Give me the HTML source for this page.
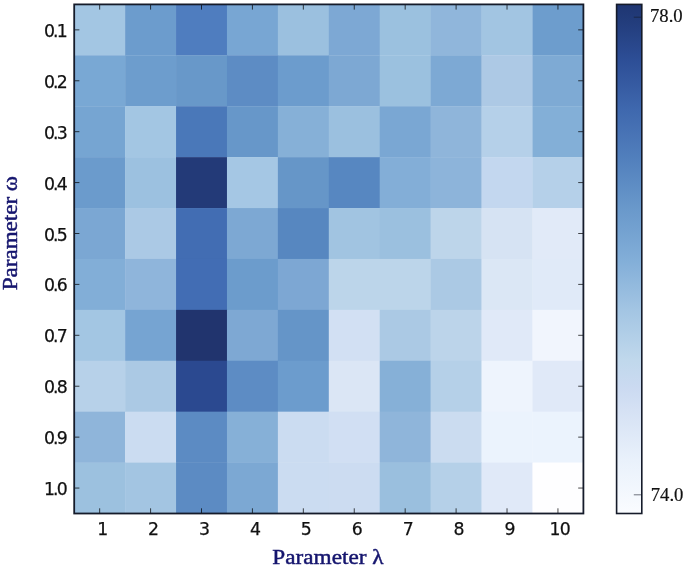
<!DOCTYPE html>
<html><head><meta charset="utf-8"><title>Heatmap</title>
<style>
html,body{margin:0;padding:0;background:#fff;}
body{width:685px;height:568px;overflow:hidden;position:relative;}
svg{position:absolute;left:0;top:0;display:block;}
.tk{font-family:"DejaVu Sans","Liberation Sans",sans-serif;font-size:17.3px;fill:#111;stroke:#111;stroke-width:0.25px;}
.cb{font-family:"Liberation Serif",serif;font-size:18.7px;fill:#111;stroke:#111;stroke-width:0.2px;}
.lb{font-family:"Liberation Serif",serif;font-size:20.5px;fill:#15156e;stroke:#15156e;stroke-width:0.45px;}
</style></head><body>
<svg width="685" height="568" viewBox="0 0 685 568">
<defs><linearGradient id="g" x1="0" y1="0" x2="0" y2="1">
<stop offset="0.0000" stop-color="#1f3672"/>
<stop offset="0.0228" stop-color="#213a78"/>
<stop offset="0.1092" stop-color="#2d4e96"/>
<stop offset="0.2074" stop-color="#3f68ae"/>
<stop offset="0.3056" stop-color="#5280bd"/>
<stop offset="0.4038" stop-color="#6a99cb"/>
<stop offset="0.5021" stop-color="#82aed8"/>
<stop offset="0.6003" stop-color="#a3c5e3"/>
<stop offset="0.6985" stop-color="#c0d8ec"/>
<stop offset="0.7535" stop-color="#cbdaf1"/>
<stop offset="0.7967" stop-color="#d5e1f4"/>
<stop offset="0.8949" stop-color="#e9f1fb"/>
<stop offset="1.0000" stop-color="#fafcff"/>
</linearGradient></defs>
<rect x="0" y="0" width="685" height="568" fill="#ffffff"/>
<g shape-rendering="auto">
<rect x="74.20" y="4.40" width="51.22" height="51.21" fill="#a3c6e3"/>
<rect x="125.12" y="4.40" width="51.22" height="51.21" fill="#6c9ccd"/>
<rect x="176.04" y="4.40" width="51.22" height="51.21" fill="#4f7dbf"/>
<rect x="226.96" y="4.40" width="51.22" height="51.21" fill="#78a6d3"/>
<rect x="277.88" y="4.40" width="51.22" height="51.21" fill="#9bc0df"/>
<rect x="328.80" y="4.40" width="51.22" height="51.21" fill="#7da8d4"/>
<rect x="379.72" y="4.40" width="51.22" height="51.21" fill="#9bc1df"/>
<rect x="430.64" y="4.40" width="51.22" height="51.21" fill="#90b6db"/>
<rect x="481.56" y="4.40" width="51.22" height="51.21" fill="#a2c5e2"/>
<rect x="532.48" y="4.40" width="51.22" height="51.21" fill="#6d9dcd"/>
<rect x="74.20" y="55.31" width="51.22" height="51.21" fill="#79a8d4"/>
<rect x="125.12" y="55.31" width="51.22" height="51.21" fill="#6d9dcd"/>
<rect x="176.04" y="55.31" width="51.22" height="51.21" fill="#6898c9"/>
<rect x="226.96" y="55.31" width="51.22" height="51.21" fill="#5d8cc4"/>
<rect x="277.88" y="55.31" width="51.22" height="51.21" fill="#6c9ccd"/>
<rect x="328.80" y="55.31" width="51.22" height="51.21" fill="#7da8d3"/>
<rect x="379.72" y="55.31" width="51.22" height="51.21" fill="#9bc1df"/>
<rect x="430.64" y="55.31" width="51.22" height="51.21" fill="#7da9d4"/>
<rect x="481.56" y="55.31" width="51.22" height="51.21" fill="#adc9e5"/>
<rect x="532.48" y="55.31" width="51.22" height="51.21" fill="#7eaad4"/>
<rect x="74.20" y="106.22" width="51.22" height="51.21" fill="#76a5d2"/>
<rect x="125.12" y="106.22" width="51.22" height="51.21" fill="#a3c6e3"/>
<rect x="176.04" y="106.22" width="51.22" height="51.21" fill="#4a78b9"/>
<rect x="226.96" y="106.22" width="51.22" height="51.21" fill="#6797c9"/>
<rect x="277.88" y="106.22" width="51.22" height="51.21" fill="#86b0d7"/>
<rect x="328.80" y="106.22" width="51.22" height="51.21" fill="#9bc0df"/>
<rect x="379.72" y="106.22" width="51.22" height="51.21" fill="#7aa7d3"/>
<rect x="430.64" y="106.22" width="51.22" height="51.21" fill="#8fb5da"/>
<rect x="481.56" y="106.22" width="51.22" height="51.21" fill="#b5d0e9"/>
<rect x="532.48" y="106.22" width="51.22" height="51.21" fill="#83afd7"/>
<rect x="74.20" y="157.13" width="51.22" height="51.21" fill="#6b9bcc"/>
<rect x="125.12" y="157.13" width="51.22" height="51.21" fill="#9cc1e0"/>
<rect x="176.04" y="157.13" width="51.22" height="51.21" fill="#233a78"/>
<rect x="226.96" y="157.13" width="51.22" height="51.21" fill="#a5c7e4"/>
<rect x="277.88" y="157.13" width="51.22" height="51.21" fill="#6696c8"/>
<rect x="328.80" y="157.13" width="51.22" height="51.21" fill="#5787c1"/>
<rect x="379.72" y="157.13" width="51.22" height="51.21" fill="#83aed7"/>
<rect x="430.64" y="157.13" width="51.22" height="51.21" fill="#8db4da"/>
<rect x="481.56" y="157.13" width="51.22" height="51.21" fill="#c3d7ef"/>
<rect x="532.48" y="157.13" width="51.22" height="51.21" fill="#b5d0e9"/>
<rect x="74.20" y="208.04" width="51.22" height="51.21" fill="#7ba7d3"/>
<rect x="125.12" y="208.04" width="51.22" height="51.21" fill="#abc9e5"/>
<rect x="176.04" y="208.04" width="51.22" height="51.21" fill="#426db3"/>
<rect x="226.96" y="208.04" width="51.22" height="51.21" fill="#7da8d3"/>
<rect x="277.88" y="208.04" width="51.22" height="51.21" fill="#5787c0"/>
<rect x="328.80" y="208.04" width="51.22" height="51.21" fill="#a1c4e1"/>
<rect x="379.72" y="208.04" width="51.22" height="51.21" fill="#9bc0df"/>
<rect x="430.64" y="208.04" width="51.22" height="51.21" fill="#bdd5ea"/>
<rect x="481.56" y="208.04" width="51.22" height="51.21" fill="#d6e3f3"/>
<rect x="532.48" y="208.04" width="51.22" height="51.21" fill="#e1eaf8"/>
<rect x="74.20" y="258.95" width="51.22" height="51.21" fill="#82aed7"/>
<rect x="125.12" y="258.95" width="51.22" height="51.21" fill="#8fb5db"/>
<rect x="176.04" y="258.95" width="51.22" height="51.21" fill="#426db4"/>
<rect x="226.96" y="258.95" width="51.22" height="51.21" fill="#6c9ccc"/>
<rect x="277.88" y="258.95" width="51.22" height="51.21" fill="#7da7d3"/>
<rect x="328.80" y="258.95" width="51.22" height="51.21" fill="#bcd5ea"/>
<rect x="379.72" y="258.95" width="51.22" height="51.21" fill="#bcd5ea"/>
<rect x="430.64" y="258.95" width="51.22" height="51.21" fill="#abc9e4"/>
<rect x="481.56" y="258.95" width="51.22" height="51.21" fill="#dbe7f5"/>
<rect x="532.48" y="258.95" width="51.22" height="51.21" fill="#e0eaf8"/>
<rect x="74.20" y="309.86" width="51.22" height="51.21" fill="#a3c6e3"/>
<rect x="125.12" y="309.86" width="51.22" height="51.21" fill="#76a4d2"/>
<rect x="176.04" y="309.86" width="51.22" height="51.21" fill="#21346e"/>
<rect x="226.96" y="309.86" width="51.22" height="51.21" fill="#7ea8d3"/>
<rect x="277.88" y="309.86" width="51.22" height="51.21" fill="#6595c8"/>
<rect x="328.80" y="309.86" width="51.22" height="51.21" fill="#d2e0f3"/>
<rect x="379.72" y="309.86" width="51.22" height="51.21" fill="#abc9e4"/>
<rect x="430.64" y="309.86" width="51.22" height="51.21" fill="#bcd4ea"/>
<rect x="481.56" y="309.86" width="51.22" height="51.21" fill="#e0e9f8"/>
<rect x="532.48" y="309.86" width="51.22" height="51.21" fill="#f1f5fd"/>
<rect x="74.20" y="360.77" width="51.22" height="51.21" fill="#b7d1e9"/>
<rect x="125.12" y="360.77" width="51.22" height="51.21" fill="#abc9e4"/>
<rect x="176.04" y="360.77" width="51.22" height="51.21" fill="#2b4990"/>
<rect x="226.96" y="360.77" width="51.22" height="51.21" fill="#5d8cc4"/>
<rect x="277.88" y="360.77" width="51.22" height="51.21" fill="#6c9ccd"/>
<rect x="328.80" y="360.77" width="51.22" height="51.21" fill="#dbe6f5"/>
<rect x="379.72" y="360.77" width="51.22" height="51.21" fill="#86b0d7"/>
<rect x="430.64" y="360.77" width="51.22" height="51.21" fill="#b5d0e8"/>
<rect x="481.56" y="360.77" width="51.22" height="51.21" fill="#eef4fd"/>
<rect x="532.48" y="360.77" width="51.22" height="51.21" fill="#e0e9f8"/>
<rect x="74.20" y="411.68" width="51.22" height="51.21" fill="#8fb5da"/>
<rect x="125.12" y="411.68" width="51.22" height="51.21" fill="#cbdcf1"/>
<rect x="176.04" y="411.68" width="51.22" height="51.21" fill="#5c8bc3"/>
<rect x="226.96" y="411.68" width="51.22" height="51.21" fill="#86b0d7"/>
<rect x="277.88" y="411.68" width="51.22" height="51.21" fill="#cbdcf1"/>
<rect x="328.80" y="411.68" width="51.22" height="51.21" fill="#d1dff3"/>
<rect x="379.72" y="411.68" width="51.22" height="51.21" fill="#8fb5da"/>
<rect x="430.64" y="411.68" width="51.22" height="51.21" fill="#cbdcf0"/>
<rect x="481.56" y="411.68" width="51.22" height="51.21" fill="#ebf3fd"/>
<rect x="532.48" y="411.68" width="51.22" height="51.21" fill="#ebf3fd"/>
<rect x="74.20" y="462.59" width="51.22" height="51.21" fill="#9cc1df"/>
<rect x="125.12" y="462.59" width="51.22" height="51.21" fill="#a3c5e2"/>
<rect x="176.04" y="462.59" width="51.22" height="51.21" fill="#5c8bc3"/>
<rect x="226.96" y="462.59" width="51.22" height="51.21" fill="#7ca8d3"/>
<rect x="277.88" y="462.59" width="51.22" height="51.21" fill="#cbdcf1"/>
<rect x="328.80" y="462.59" width="51.22" height="51.21" fill="#ccdcf1"/>
<rect x="379.72" y="462.59" width="51.22" height="51.21" fill="#9abfde"/>
<rect x="430.64" y="462.59" width="51.22" height="51.21" fill="#b5d0e8"/>
<rect x="481.56" y="462.59" width="51.22" height="51.21" fill="#e0e9f8"/>
<rect x="532.48" y="462.59" width="51.22" height="51.21" fill="#fefeff"/>
</g>
<g stroke="#000" stroke-opacity="0.8" stroke-width="0.9" fill="none">
<path d="M99.66 4.40V9.60M99.66 513.50V508.30"/>
<path d="M74.20 29.86H79.40M583.40 29.86H578.20"/>
<path d="M150.58 4.40V9.60M150.58 513.50V508.30"/>
<path d="M74.20 80.77H79.40M583.40 80.77H578.20"/>
<path d="M201.50 4.40V9.60M201.50 513.50V508.30"/>
<path d="M74.20 131.68H79.40M583.40 131.68H578.20"/>
<path d="M252.42 4.40V9.60M252.42 513.50V508.30"/>
<path d="M74.20 182.59H79.40M583.40 182.59H578.20"/>
<path d="M303.34 4.40V9.60M303.34 513.50V508.30"/>
<path d="M74.20 233.50H79.40M583.40 233.50H578.20"/>
<path d="M354.26 4.40V9.60M354.26 513.50V508.30"/>
<path d="M74.20 284.40H79.40M583.40 284.40H578.20"/>
<path d="M405.18 4.40V9.60M405.18 513.50V508.30"/>
<path d="M74.20 335.31H79.40M583.40 335.31H578.20"/>
<path d="M456.10 4.40V9.60M456.10 513.50V508.30"/>
<path d="M74.20 386.23H79.40M583.40 386.23H578.20"/>
<path d="M507.02 4.40V9.60M507.02 513.50V508.30"/>
<path d="M74.20 437.13H79.40M583.40 437.13H578.20"/>
<path d="M557.94 4.40V9.60M557.94 513.50V508.30"/>
<path d="M74.20 488.05H79.40M583.40 488.05H578.20"/>
</g>
<rect x="74.20" y="4.40" width="509.20" height="509.10" fill="none" stroke="#151b2a" stroke-width="1.8"/>
<rect x="616.60" y="4.40" width="25.20" height="509.10" fill="url(#g)" stroke="#151b2a" stroke-width="1.6"/>
<path d="M633.80 17.2H641.80M633.80 494.8H641.80" stroke="#151b2a" stroke-width="1" stroke-opacity="0.6"/>
<text class="tk" x="102.66" y="534.6" text-anchor="middle">1</text>
<text class="tk" x="66.0" y="36.86" text-anchor="end" letter-spacing="-1.8">0.1</text>
<text class="tk" x="153.58" y="534.6" text-anchor="middle">2</text>
<text class="tk" x="66.0" y="87.77" text-anchor="end" letter-spacing="-1.8">0.2</text>
<text class="tk" x="204.50" y="534.6" text-anchor="middle">3</text>
<text class="tk" x="66.0" y="138.68" text-anchor="end" letter-spacing="-1.8">0.3</text>
<text class="tk" x="255.42" y="534.6" text-anchor="middle">4</text>
<text class="tk" x="66.0" y="189.59" text-anchor="end" letter-spacing="-1.8">0.4</text>
<text class="tk" x="306.34" y="534.6" text-anchor="middle">5</text>
<text class="tk" x="66.0" y="240.50" text-anchor="end" letter-spacing="-1.8">0.5</text>
<text class="tk" x="357.26" y="534.6" text-anchor="middle">6</text>
<text class="tk" x="66.0" y="291.40" text-anchor="end" letter-spacing="-1.8">0.6</text>
<text class="tk" x="408.18" y="534.6" text-anchor="middle">7</text>
<text class="tk" x="66.0" y="342.31" text-anchor="end" letter-spacing="-1.8">0.7</text>
<text class="tk" x="459.10" y="534.6" text-anchor="middle">8</text>
<text class="tk" x="66.0" y="393.23" text-anchor="end" letter-spacing="-1.8">0.8</text>
<text class="tk" x="510.02" y="534.6" text-anchor="middle">9</text>
<text class="tk" x="66.0" y="444.13" text-anchor="end" letter-spacing="-1.8">0.9</text>
<text class="tk" x="559.74" y="534.6" text-anchor="middle" letter-spacing="-0.8">10</text>
<text class="tk" x="66.0" y="495.05" text-anchor="end" letter-spacing="-1.8">1.0</text>
<text class="cb" x="650.0" y="21.6">78.0</text>
<text class="cb" x="650.7" y="501.0">74.0</text>
<text class="lb" x="272.3" y="563.5" textLength="111.2" lengthAdjust="spacingAndGlyphs">Parameter λ</text>
<text class="lb" transform="translate(17.1 290.2) rotate(-90)" textLength="114.2" lengthAdjust="spacingAndGlyphs">Parameter ω</text>
</svg></body></html>
